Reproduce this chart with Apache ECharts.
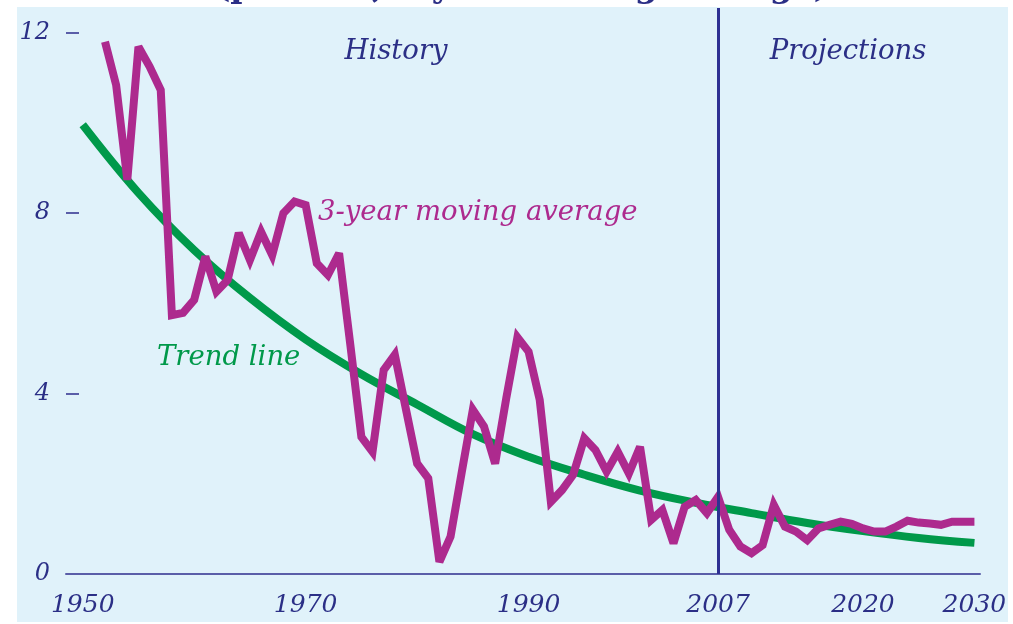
<!DOCTYPE html>
<html>
<head>
<meta charset="utf-8">
<script src="https://cdn.jsdelivr.net/npm/echarts@6/dist/echarts.min.js"></script>
<style>
  html, body { margin: 0; padding: 0; background: #fff; }
  #chart { width: 1013px; height: 624px; }
</style>
</head>
<body>
<div id="chart"></div>
<script>
// x axis categories, one per year
const years = []
for (let y = 1949; y <= 2030; y++) years.push(String(y))
const labelYears = ['1950', '1970', '1990', '2007', '2020', '2030']

// y axis ticks
const yTicks = [0, 4, 8, 12]

// 3-year moving average, 1952..2030
const avgYears = []
for (let y = 1952; y <= 2030; y++) avgYears.push(String(y))
const avgValues = [
  11.8, 10.84, 8.74, 11.69, 11.25, 10.73, 5.74, 5.79, 6.08, 7.04,
  6.26, 6.52, 7.56, 6.96, 7.59, 7.07, 8.0, 8.26, 8.18, 6.89,
  6.63, 7.11, 5.1, 3.04, 2.71, 4.52, 4.86, 3.65, 2.45, 2.12,
  0.27, 0.83, 2.25, 3.64, 3.27, 2.45, 3.9, 5.25, 4.93, 3.86,
  1.6, 1.86, 2.2, 3.01, 2.75, 2.27, 2.71, 2.23, 2.82, 1.2,
  1.42, 0.68, 1.49, 1.64, 1.35, 1.71, 0.98, 0.61, 0.46, 0.64,
  1.53, 1.05, 0.94, 0.75, 1.01, 1.09, 1.16, 1.11, 1.01, 0.94,
  0.94, 1.05, 1.18, 1.14, 1.12, 1.09, 1.16, 1.16, 1.16
]

// trend line read every five years
const trendYears = ['1950', '1955', '1960', '1965', '1970', '1975', '1980', '1985', '1990',
  '1995', '2000', '2005', '2010', '2015', '2020', '2025', '2030']
const trendValues = [9.96, 8.45, 7.18, 6.12, 5.2, 4.43, 3.76, 3.1, 2.6,
  2.2, 1.85, 1.58, 1.35, 1.13, 0.95, 0.8, 0.69]

const splitYear = '2007'

const NAVY = '#2B2F86'
const serif = '"DejaVu Serif", "Liberation Serif", serif'

const chart = echarts.init(document.getElementById('chart'))
const option = {
  backgroundColor: '#fff',
  animation: false,
  textStyle: { fontFamily: serif },
  grid: { left: 66, right: 33, top: 8, bottom: 50 },
  graphic: [
    // title, mostly cut off by the top of the picture
    {
      type: 'text', z: -20, silent: true, x: 522, y: 5,
      style: {
        text: '(percent, 3-year moving average)',
        font: 'bold 33px ' + serif,
        fill: NAVY, align: 'center', verticalAlign: 'bottom'
      }
    },
    {
      type: 'rect', z: -10, silent: true,
      shape: { x: 17, y: 7, width: 991, height: 615 },
      style: { fill: '#E0F2FA' }
    },
    {
      type: 'text', z: 100, silent: true, x: 396, y: 52,
      style: { text: 'History', font: 'italic 27.5px ' + serif, fill: NAVY, align: 'center', verticalAlign: 'middle' }
    },
    {
      type: 'text', z: 100, silent: true, x: 848, y: 52,
      style: { text: 'Projections', font: 'italic 27.5px ' + serif, fill: NAVY, align: 'center', verticalAlign: 'middle' }
    },
    {
      type: 'text', z: 100, silent: true, x: 318, y: 213,
      style: { text: '3-year moving average', font: 'italic 27.5px ' + serif, fill: '#AD2A8E', align: 'left', verticalAlign: 'middle' }
    },
    {
      type: 'text', z: 100, silent: true, x: 157, y: 358,
      style: { text: 'Trend line', font: 'italic 27.5px ' + serif, fill: '#00994A', align: 'left', verticalAlign: 'middle' }
    }
  ],
  xAxis: {
    type: 'category',
    data: years,
    boundaryGap: true,
    axisLine: { lineStyle: { color: '#5A5EA8', width: 2 } },
    axisTick: { show: false },
    splitLine: { show: false },
    axisLabel: {
      interval: (i, v) => labelYears.includes(v),
      fontStyle: 'italic',
      fontSize: 25,
      fontFamily: serif,
      color: NAVY,
      margin: 19
    }
  },
  yAxis: {
    type: 'value',
    min: 0,
    max: 12.55,
    interval: 4,
    axisLine: { show: false },
    splitLine: { show: false },
    axisTick: {
      show: true,
      inside: true,
      length: 13,
      customValues: yTicks,
      lineStyle: { color: '#5A5EA8', width: 2 }
    },
    axisLabel: {
      customValues: yTicks,
      fontStyle: 'italic',
      fontSize: 24,
      fontFamily: serif,
      color: NAVY,
      margin: 16
    }
  },
  series: [
    {
      type: 'line',
      name: 'Trend line',
      data: trendYears.map((y, i) => [y, trendValues[i]]),
      smooth: 0.4,
      symbol: 'none',
      lineStyle: { color: '#00994A', width: 8 },
      emphasis: { disabled: true },
      z: 2
    },
    {
      type: 'line',
      name: '3-year moving average',
      data: avgYears.map((y, i) => [y, avgValues[i]]),
      symbol: 'none',
      lineStyle: { color: '#AD2A8E', width: 8, join: 'miter', miterLimit: 3 },
      emphasis: { disabled: true },
      z: 3,
      markLine: {
        silent: true,
        symbol: 'none',
        label: { show: false },
        lineStyle: { color: '#2E3192', width: 3, type: 'solid' },
        emphasis: { disabled: true },
        data: [{ xAxis: splitYear }]
      }
    }
  ]
}
chart.setOption(option)
</script>
</body>
</html>
